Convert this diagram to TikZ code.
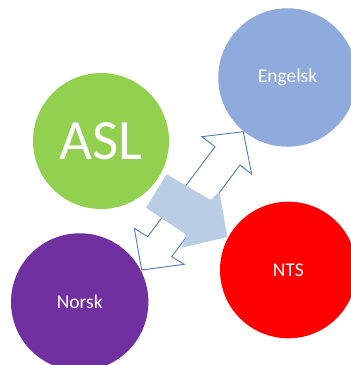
\documentclass[tikz,border=0pt]{standalone}
\usepackage{fontspec}
\setmainfont{Carlito}
\definecolor{aslgreen}{HTML}{92D050}
\definecolor{engblue}{HTML}{8FAADC}
\definecolor{ntsred}{HTML}{FF0000}
\definecolor{norskpurple}{HTML}{7030A0}
\definecolor{arrowline}{HTML}{4A7EBB}
\definecolor{blockblue}{HTML}{B9CDE5}
\begin{document}
\begin{tikzpicture}[x=1pt,y=-1pt,
  bubble/.style={circle,inner sep=0pt,text=white,font=\fontsize{19.5}{22}\selectfont},
  dblarrow/.style={draw=arrowline,fill=white,line width=0.9pt,line join=miter},
  blockarrow/.style={fill=blockblue,draw=none}]
\useasboundingbox (0,0) rectangle (351,365);
% double arrow between Norsk and Engelsk
\draw[dblarrow] (243.3,131.7) -- (251.7,174.3) -- (240,165) -- (171.7,256.7)
  -- (184.3,264.3) -- (141.7,270) -- (134.3,228.3) -- (147.7,236.7)
  -- (215,146.7) -- (201.7,136.7) -- cycle;
% block arrow from ASL towards NTS
\fill[blockarrow] (166.7,174.3) -- (210.7,200) -- (219.3,191.7) -- (227.4,237)
  -- (181.7,247.7) -- (186.7,235) -- (146,207.7) -- cycle;
% circles
\node[bubble,fill=aslgreen,minimum size=136pt,font=\fontsize{57}{60}\selectfont] (asl) at (101,141) {ASL};
\node[bubble,fill=engblue,minimum size=138.5pt] (eng) at (287.5,77.5) {Engelsk};
\node[bubble,fill=ntsred,minimum size=136.6pt] (nts) at (288.3,270) {NTS};
\node[bubble,fill=norskpurple,minimum size=137.4pt] (norsk) at (79.7,302) {Norsk};
\end{tikzpicture}
\end{document}
